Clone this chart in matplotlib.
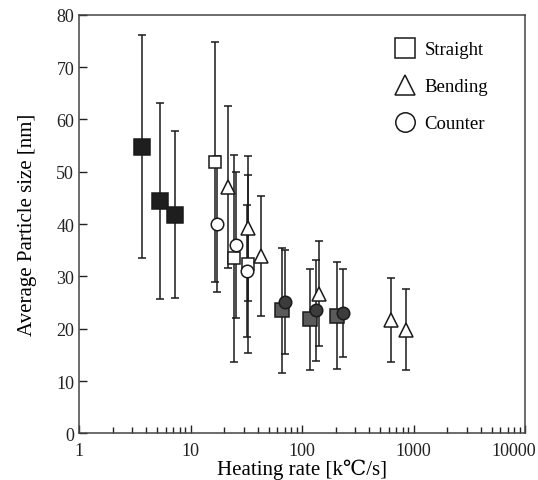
import matplotlib
matplotlib.use("Agg")
import matplotlib.pyplot as plt
import matplotlib.transforms as mtransforms
from matplotlib.lines import Line2D
from matplotlib.ticker import LogLocator, NullFormatter, FixedLocator

plt.rcParams['font.family'] = ['Liberation Serif', 'DejaVu Serif']
plt.rcParams['mathtext.fontset'] = 'stix'

# Straight
straight_x = [3.63, 5.36, 7.2, 16.4, 24.4, 32.5, 66.7, 118, 207]
straight_y = [54.8, 44.4, 41.8, 51.9, 33.5, 32.4, 23.5, 21.8, 22.5]
straight_err = [21.3, 18.7, 16.0, 23.0, 19.8, 17.0, 12.0, 9.6, 10.2]
straight_face = ['#1e1e1e'] * 3 + ['white'] * 3 + ['#5a5a5a'] * 3

# Bending
bending_x = [21.8, 32.7, 42.8, 142, 627, 860]
bending_y = [47.1, 39.2, 33.9, 26.7, 21.7, 19.8]
bending_err = [15.4, 13.9, 11.4, 10.0, 8.0, 7.7]
bending_face = ['white'] * 6

# Counter
counter_x = [17.3, 25.6, 32.3, 70.5, 133, 234]
counter_y = [40.0, 36.0, 31.1, 25.1, 23.5, 23.0]
counter_err = [13.0, 14.0, 12.6, 9.9, 9.6, 8.4]
counter_face = ['white'] * 3 + ['#3c3c3c'] * 3

legend_labels = ['Straight', 'Bending', 'Counter']
x_ticks = [1, 10, 100, 1000, 10000]
x_ticklabels = ['1', '10', '100', '1000', '10000']

fig = plt.figure(figsize=(5.38, 4.81), dpi=100)
ax = fig.add_axes([0.147, 0.097, 0.829, 0.870])

def draw(xs, ys, errs, faces, marker, sizes):
    for x, y, e in zip(xs, ys, errs):
        ax.errorbar([x], [y], yerr=[e], fmt='none', ecolor='#1a1a1a',
                    elinewidth=1.1, capsize=3.2, capthick=1.1, zorder=2)
    for x, y, f, s in zip(xs, ys, faces, sizes):
        ax.plot([x], [y], linestyle='none', marker=marker, markersize=s,
                markerfacecolor=f, markeredgecolor='#1a1a1a',
                markeredgewidth=1.1, zorder=3)

draw(straight_x, straight_y, straight_err, straight_face, 's',
     [11, 11, 11, 9, 9, 9, 9.5, 9.5, 9.5])
draw(bending_x, bending_y, bending_err, bending_face, '^', [10] * 6)
draw(counter_x, counter_y, counter_err, counter_face, 'o', [9] * 6)

ax.set_xscale('log')
ax.set_xlim(1, 10000)
ax.set_ylim(0, 80)
ax.yaxis.set_major_locator(FixedLocator([0, 10, 20, 30, 40, 50, 60, 70, 80]))
ax.xaxis.set_minor_locator(LogLocator(base=10, subs=range(2, 10), numticks=50))
ax.xaxis.set_minor_formatter(NullFormatter())
ax.set_xticks(x_ticks)
ax.set_xticklabels(x_ticklabels)

ax.tick_params(axis='both', which='both', direction='in', top=False, right=False,
               labelsize=13, colors='#222222')
ax.tick_params(axis='both', which='major', length=6, width=1)
ax.tick_params(axis='x', which='minor', length=4, width=1)
ax.tick_params(axis='x', pad=6)
for sp in ax.spines.values():
    sp.set_linewidth(1.1)
    sp.set_color('#444444')

# shift the last x tick label left so it stays inside the figure
last_tick = ax.xaxis.get_major_ticks()[-1]
last_tick.label1.set_transform(last_tick.label1.get_transform() +
                               mtransforms.ScaledTranslation(-0.11, 0, fig.dpi_scale_trans))

ax.set_xlabel('Heating rate [k\u2103/s]', fontsize=15, labelpad=0)
ax.set_ylabel('Average Particle size [nm]', fontsize=15, labelpad=14)

handles = [
    Line2D([], [], linestyle='none', marker='s', markersize=14,
           markerfacecolor='white', markeredgecolor='#1a1a1a', markeredgewidth=1.1),
    Line2D([], [], linestyle='none', marker='^', markersize=15,
           markerfacecolor='white', markeredgecolor='#1a1a1a', markeredgewidth=1.1),
    Line2D([], [], linestyle='none', marker='o', markersize=14,
           markerfacecolor='white', markeredgecolor='#1a1a1a', markeredgewidth=1.1),
]
ax.legend(handles, legend_labels, loc='upper right', bbox_to_anchor=(0.955, 0.977),
          frameon=False, fontsize=13.5, labelspacing=1.05, handletextpad=0.3,
          handlelength=1.5)

fig.savefig('out.png', dpi=100)
